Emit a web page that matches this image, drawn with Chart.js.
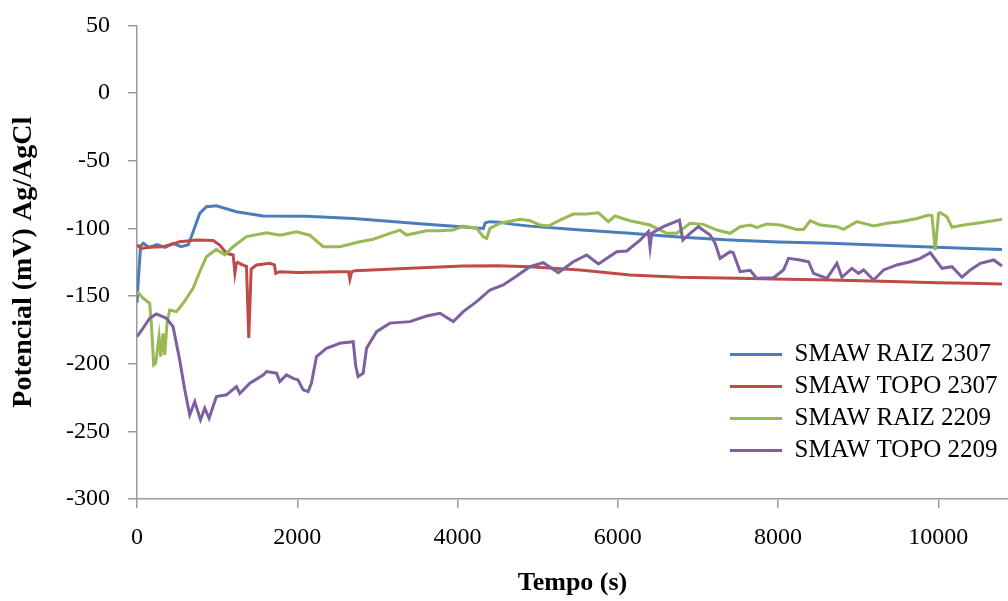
<!DOCTYPE html>
<html>
<head>
<meta charset="utf-8">
<script src="https://cdn.jsdelivr.net/npm/chart.js@4/dist/chart.umd.min.js"></script>
<style>
html,body{margin:0;padding:0;background:#fff;}
canvas{display:block;}
</style>
</head>
<body>
<canvas id="c" width="1008" height="601"></canvas>
<script>
// Series names
const seriesNames = ['SMAW RAIZ 2307', 'SMAW TOPO 2307', 'SMAW RAIZ 2209', 'SMAW TOPO 2209'];
// Axis ticks
const xTickValues = [0, 2000, 4000, 6000, 8000, 10000];
const yTickValues = [50, 0, -50, -100, -150, -200, -250, -300];

// [tempo (s), potencial (mV)]
const raiz2307 = [[0,-155],[20,-135],[45,-113],[80,-111],[150,-114],[250,-112],[350,-114],[450,-111],[550,-113.5],[640,-112],[679,-106],[740,-96],[783,-88.9],[866,-84],[991,-83.2],[1241,-87.7],[1574,-90.8],[2115,-91],[2698,-92.6],[3100,-94.5],[3531,-96.5],[4000,-98.5],[4322,-100],[4345,-96],[4400,-95],[4530,-95.5],[4700,-97],[4904,-98.3],[5500,-101],[6153,-103.6],[6800,-106.5],[7402,-108.6],[8000,-110],[8651,-111],[9300,-112.5],[9983,-114],[10400,-114.8],[10795,-115.5]];

const topo2307 = [[0,-112.3],[60,-114.8],[150,-114],[325,-113.5],[450,-111.5],[533,-109.8],[742,-108.6],[950,-109],[1033,-112.3],[1117,-118.4],[1200,-119.6],[1222,-133],[1240,-126],[1258,-125],[1300,-126.5],[1366,-128],[1395,-181],[1425,-130],[1490,-127],[1657,-125.8],[1715,-127],[1732,-133.2],[1782,-132],[2000,-132.5],[2531,-132],[2640,-132],[2657,-137.6],[2680,-132],[2719,-131.2],[3000,-130.5],[3406,-129.5],[4072,-127.8],[4500,-127.5],[4904,-128.3],[5529,-130.7],[6153,-134.4],[6778,-136.1],[7486,-136.9],[8100,-137.5],[8651,-138.1],[9300,-139],[9983,-140.1],[10400,-140.5],[10795,-141]];

const raiz2209 = [[0,-146.7],[75,-151.6],[158,-155.4],[179,-170],[208,-200.9],[233,-199.7],[275,-180],[296,-194.8],[325,-177.5],[346,-193.5],[375,-170],[408,-160.3],[492,-161.5],[575,-155.3],[700,-144.3],[783,-132],[866,-120.9],[991,-115.5],[1095,-119.6],[1200,-113.5],[1366,-106],[1616,-103.2],[1782,-105],[1991,-102.4],[2157,-105],[2323,-113.5],[2531,-113.5],[2781,-109.8],[2948,-108],[3156,-103.6],[3281,-101.2],[3364,-104.9],[3614,-101.7],[3780,-101.7],[3947,-101.2],[4072,-98.2],[4239,-100],[4322,-106.1],[4364,-107.3],[4405,-100],[4530,-96.2],[4780,-93.3],[4904,-94.3],[5030,-97.5],[5133,-98.2],[5279,-93.8],[5445,-89.4],[5612,-89.4],[5758,-88.4],[5883,-95],[5966,-90.8],[6153,-94.3],[6403,-97.5],[6612,-103.6],[6737,-103.6],[6903,-96.2],[7069,-97],[7236,-101.2],[7402,-103.6],[7527,-98.7],[7652,-97.5],[7735,-99.2],[7861,-96.7],[8027,-97.5],[8235,-100.7],[8318,-100.7],[8401,-94.3],[8526,-97.5],[8735,-98.7],[8818,-100.7],[8984,-95],[9192,-98.2],[9359,-96.2],[9525,-95],[9734,-92.6],[9879,-90.1],[9921,-90.5],[9962,-116],[10004,-88.9],[10025,-88.4],[10109,-91.4],[10171,-99.2],[10317,-97.5],[10525,-95.8],[10795,-93.3]];

const topo2209 = [[0,-180],[75,-173.8],[158,-166.4],[242,-163.2],[367,-166.4],[450,-172.6],[533,-197.2],[596,-219.3],[658,-237.8],[721,-228],[792,-241.5],[846,-232.9],[900,-240.3],[991,-224.3],[1117,-223],[1241,-216.9],[1283,-222],[1408,-214.4],[1574,-208.3],[1616,-205.8],[1741,-207],[1782,-213.2],[1866,-208.3],[1949,-210.8],[2010,-212],[2073,-219.3],[2136,-220.6],[2177,-214.4],[2240,-194.8],[2365,-188.6],[2531,-184.9],[2698,-183.7],[2731,-202.1],[2760,-209.5],[2823,-207],[2865,-188.6],[2990,-176.3],[3156,-170],[3406,-168.9],[3614,-164.7],[3781,-162.7],[3947,-168.9],[4072,-161.5],[4239,-154.1],[4405,-145.5],[4571,-141.8],[4738,-135.2],[4904,-128.3],[5071,-125.3],[5258,-132.7],[5445,-124.6],[5612,-119.6],[5758,-126.3],[5987,-117.2],[6112,-116.7],[6279,-108.6],[6382,-102.4],[6403,-114],[6424,-103.6],[6569,-98.7],[6769,-93.8],[6812,-108.6],[6903,-103.6],[7006,-98.7],[7152,-104.9],[7215,-111],[7277,-122.1],[7402,-117.2],[7440,-118],[7527,-132],[7652,-131],[7736,-136.9],[7944,-136.4],[8068,-130.7],[8131,-122.1],[8277,-123.3],[8381,-124.6],[8443,-133.2],[8610,-136.9],[8735,-125.8],[8797,-136.1],[8922,-129.5],[9005,-133.2],[9068,-130.7],[9193,-138.1],[9318,-130.7],[9484,-127],[9651,-124.6],[9776,-122.1],[9901,-118],[10046,-129.5],[10171,-128.3],[10296,-136.1],[10400,-130.7],[10525,-125.8],[10691,-123.3],[10795,-127.8]];

const seriesData = [raiz2307, topo2307, raiz2209, topo2209];
const seriesColors = ['#4A7EBB', '#BE4B48', '#98B954', '#7D60A0'];
const drawOrder = [3, 2, 1, 0];

const toXY = arr => arr.map(p => ({x: p[0], y: p[1]}));
const plainLabel = v => String(v);

const legendPlacer = {
  id: 'legendPlacer',
  afterLayout(chart) {
    const lg = chart.legend;
    const w = lg.width, h = lg.height;
    lg.left = 723; lg.right = 723 + w;
    lg.top = 335; lg.bottom = 335 + h;
  }
};

const serif = '"Liberation Serif", "Times New Roman", serif';

new Chart(document.getElementById('c'), {
  type: 'line',
  data: {
    datasets: seriesNames.map((name, i) => ({
      label: name,
      data: toXY(seriesData[i]),
      borderColor: seriesColors[i],
      backgroundColor: seriesColors[i],
      borderWidth: 3,
      pointRadius: 0,
      tension: 0,
      order: drawOrder[i]
    }))
  },
  options: {
    responsive: false,
    animation: false,
    devicePixelRatio: 1,
    layout: { padding: { top: 25.5, right: 0, bottom: 0, left: 0 } },
    plugins: {
      tooltip: { enabled: false },
      legend: {
        position: 'chartArea',
        align: 'start',
        labels: {
          usePointStyle: true,
          pointStyle: 'line',
          pointStyleWidth: 52,
          boxHeight: 24,
          padding: 7,
          color: '#000',
          font: { family: serif, size: 25 },
          sort: (a, b) => a.datasetIndex - b.datasetIndex
        }
      }
    },
    scales: {
      x: {
        type: 'linear',
        min: 0,
        max: 10870,
        afterBuildTicks: scale => { scale.ticks = xTickValues.map(v => ({value: v})); },
        afterFit: scale => { scale.height = 102; scale.paddingLeft = 0; scale.paddingRight = 0; },
        grid: { drawOnChartArea: false, drawTicks: true, tickLength: 9, color: '#9a9a9a', lineWidth: 1.5 },
        border: { color: '#9a9a9a', width: 1.5 },
        ticks: {
          padding: 15,
          color: '#000',
          maxRotation: 0,
          callback: plainLabel,
          font: { family: serif, size: 24 }
        },
        title: {
          display: true,
          text: 'Tempo (s)',
          color: '#000',
          padding: { top: 2, bottom: 2 },
          font: { family: serif, size: 26, weight: 'bold' }
        }
      },
      y: {
        type: 'linear',
        min: -300,
        max: 50,
        afterBuildTicks: scale => { scale.ticks = yTickValues.map(v => ({value: v})); },
        afterFit: scale => { scale.width = 137; scale.paddingTop = 0; scale.paddingBottom = 0; },
        grid: { drawOnChartArea: false, drawTicks: true, tickLength: 9, color: '#9a9a9a', lineWidth: 1.5 },
        border: { color: '#9a9a9a', width: 1.5 },
        ticks: {
          padding: 18,
          color: '#000',
          callback: plainLabel,
          font: { family: serif, size: 24 }
        },
        title: {
          display: true,
          text: 'Potencial (mV) Ag/AgCl',
          color: '#000',
          padding: { top: 7, bottom: 0 },
          font: { family: serif, size: 28, weight: 'bold' }
        }
      }
    }
  },
  plugins: [legendPlacer]
});
</script>
</body>
</html>
